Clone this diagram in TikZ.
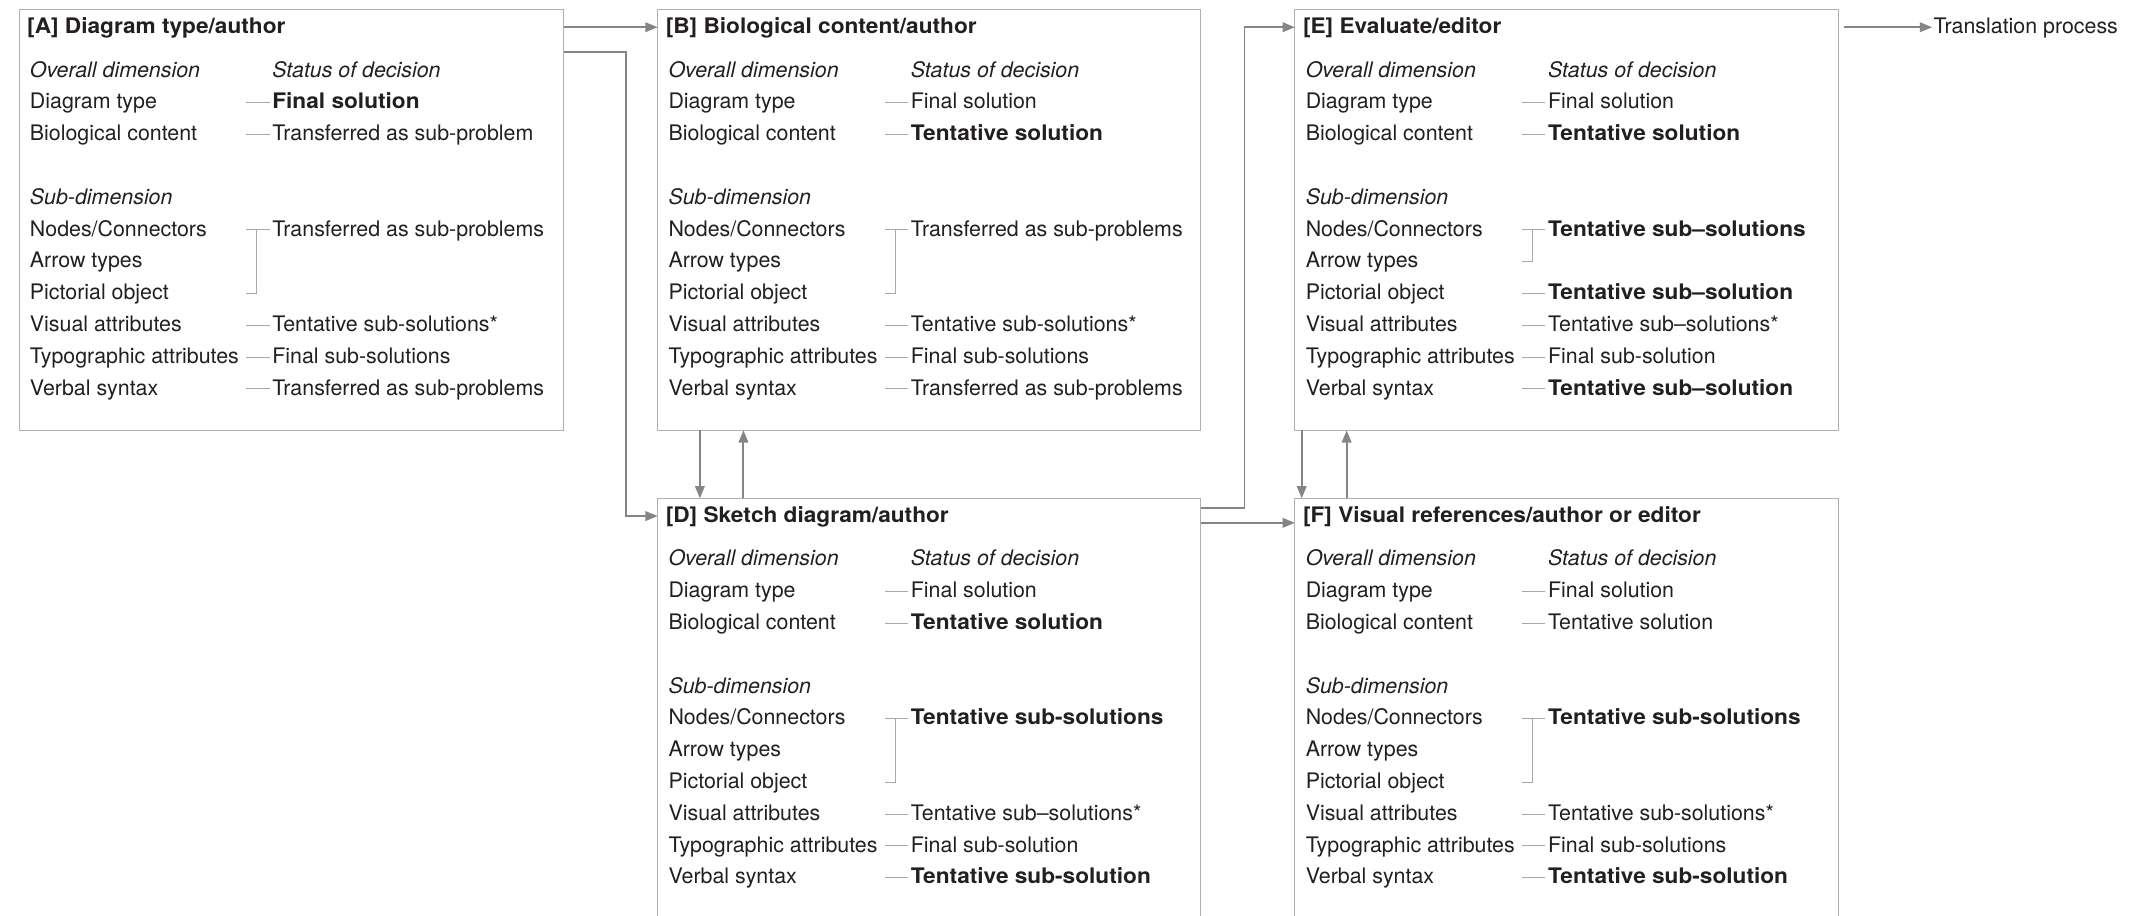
\documentclass[tikz,border=0pt]{standalone}
\usepackage{fontspec}
\setmainfont{TeX Gyre Heros}[BoldFeatures={FakeStretch=1.06}]
\usetikzlibrary{arrows.meta,calc}
\definecolor{txtc}{HTML}{231F20}
\definecolor{boxc}{HTML}{B0B0B0}
\definecolor{arrc}{HTML}{858585}
\definecolor{dashc}{HTML}{A8A8A8}
\tikzset{
  panel/.style={draw=boxc, line width=0.8pt, fill=none, inner sep=0pt, outer sep=0pt, anchor=north west},
  txt/.style={text=txtc, inner sep=0pt, outer sep=0pt, anchor=base west, font=\fontsize{15.7}{19}\selectfont},
  txtb/.style={txt, font=\fontsize{15.7}{19}\selectfont\bfseries},
  txti/.style={txt, font=\fontsize{15.7}{19}\selectfont\itshape},
  dashln/.style={draw=dashc, line width=0.7pt},
  arr/.style={draw=arrc, line width=1.4pt, -{Triangle[length=9pt,width=7pt]}}
}
% header of a panel
\newcommand\phead[2]{%
  \node[txtb] (#1-t) at (6,-17.5) {#2};
  \node[txti] (#1-h1) at (8,-49.6) {Overall dimension};
  \node[txti] (#1-h2) at (186,-49.6) {Status of decision};
  \node[txti] (#1-s) at (8,{-49.6-23.35*4}) {Sub-dimension};
}
% row with dash
\newcommand\prow[4]{%
  \node[txt] (#1-l#2) at (8,{-49.6-23.35*#2}) {#3};
  \node[txt] (#1-r#2) at (186,{-49.6-23.35*#2}) {#4};
  \draw[dashln] (167,{-45.1-23.35*#2}) -- (184,{-45.1-23.35*#2});
}
% row with left and right text, no dash
\newcommand\prown[4]{%
  \node[txt] (#1-l#2) at (8,{-49.6-23.35*#2}) {#3};
  \node[txt] (#1-r#2) at (186,{-49.6-23.35*#2}) {#4};
}
% left text only
\newcommand\pleft[3]{%
  \node[txt] (#1-l#2) at (8,{-49.6-23.35*#2}) {#3};
}
% bracket from row #1 to row #2
\newcommand\pbracket[2]{%
  \draw[dashln] (167,{-45.1-23.35*#1}) -- (184,{-45.1-23.35*#1});
  \draw[dashln] (174.7,{-45.1-23.35*#1}) -- (174.7,{-45.1-23.35*#2}) -- (167,{-45.1-23.35*#2});
}
\begin{document}
\begin{tikzpicture}[x=1pt,y=1pt]
\useasboundingbox (0,0) rectangle (1568,-672);
\clip (0,0) rectangle (1568,-672);
\fill[white] (0,0) rectangle (1568,-672);

% panels
\node[panel, minimum width=400pt, minimum height=309pt] (A) at (14,-7) {};
\node[panel, minimum width=399pt, minimum height=309pt] (B) at (483,-7) {};
\node[panel, minimum width=399pt, minimum height=309pt] (E) at (951,-7) {};
\node[panel, minimum width=399pt, minimum height=330pt] (D) at (483,-366) {};
\node[panel, minimum width=399pt, minimum height=330pt] (F) at (951,-366) {};

% panel A
\begin{scope}[shift={(A.north west)}]
  \phead{A}{[A] Diagram type/author}
  \prow{A}{1}{Diagram type}{\textbf{Final solution}}
  \prow{A}{2}{Biological content}{Transferred as sub-problem}
  \prown{A}{5}{Nodes/Connectors}{Transferred as sub-problems}
  \pleft{A}{6}{Arrow types}
  \pleft{A}{7}{Pictorial object}
  \pbracket{5}{7}
  \prow{A}{8}{Visual attributes}{Tentative sub-solutions*}
  \prow{A}{9}{Typographic attributes}{Final sub-solutions}
  \prow{A}{10}{Verbal syntax}{Transferred as sub-problems}
\end{scope}

% panel B
\begin{scope}[shift={(B.north west)}]
  \phead{B}{[B] Biological content/author}
  \prow{B}{1}{Diagram type}{Final solution}
  \prow{B}{2}{Biological content}{\textbf{Tentative solution}}
  \prown{B}{5}{Nodes/Connectors}{Transferred as sub-problems}
  \pleft{B}{6}{Arrow types}
  \pleft{B}{7}{Pictorial object}
  \pbracket{5}{7}
  \prow{B}{8}{Visual attributes}{Tentative sub-solutions*}
  \prow{B}{9}{Typographic attributes}{Final sub-solutions}
  \prow{B}{10}{Verbal syntax}{Transferred as sub-problems}
\end{scope}

% panel E
\begin{scope}[shift={(E.north west)}]
  \phead{E}{[E] Evaluate/editor}
  \prow{E}{1}{Diagram type}{Final solution}
  \prow{E}{2}{Biological content}{\textbf{Tentative solution}}
  \prown{E}{5}{Nodes/Connectors}{\textbf{Tentative sub--solutions}}
  \pleft{E}{6}{Arrow types}
  \pbracket{5}{6}
  \prow{E}{7}{Pictorial object}{\textbf{Tentative sub--solution}}
  \prow{E}{8}{Visual attributes}{Tentative sub--solutions*}
  \prow{E}{9}{Typographic attributes}{Final sub-solution}
  \prow{E}{10}{Verbal syntax}{\textbf{Tentative sub--solution}}
\end{scope}

% panel D
\begin{scope}[shift={(D.north west)}]
  \phead{D}{[D] Sketch diagram/author}
  \prow{D}{1}{Diagram type}{Final solution}
  \prow{D}{2}{Biological content}{\textbf{Tentative solution}}
  \prown{D}{5}{Nodes/Connectors}{\textbf{Tentative sub-solutions}}
  \pleft{D}{6}{Arrow types}
  \pleft{D}{7}{Pictorial object}
  \pbracket{5}{7}
  \prow{D}{8}{Visual attributes}{Tentative sub--solutions*}
  \prow{D}{9}{Typographic attributes}{Final sub-solution}
  \prow{D}{10}{Verbal syntax}{\textbf{Tentative sub-solution}}
\end{scope}

% panel F
\begin{scope}[shift={(F.north west)}]
  \phead{F}{[F] Visual references/author or editor}
  \prow{F}{1}{Diagram type}{Final solution}
  \prow{F}{2}{Biological content}{Tentative solution}
  \prown{F}{5}{Nodes/Connectors}{\textbf{Tentative sub-solutions}}
  \pleft{F}{6}{Arrow types}
  \pleft{F}{7}{Pictorial object}
  \pbracket{5}{7}
  \prow{F}{8}{Visual attributes}{Tentative sub-solutions*}
  \prow{F}{9}{Typographic attributes}{Final sub-solutions}
  \prow{F}{10}{Verbal syntax}{\textbf{Tentative sub-solution}}
\end{scope}

% output label
\node[txt] (T) at (1420,-24.5) {Translation process};

% connectors
\draw[arr] ($(A.north east)+(0,-13)$) -- ($(B.north west)+(0,-13)$);
\draw[arr] ($(A.north east)+(0,-31)$) -| ($(D.north west)+(-23,-13)$) -- ($(D.north west)+(0,-13)$);
\draw[arr] ($(B.south west)+(31,0)$) -- ($(D.north west)+(31,0)$);
\draw[arr] ($(D.north west)+(63,0)$) -- ($(B.south west)+(63,0)$);
\draw[arr] ($(D.north east)+(0,-7)$) -| ($(E.north west)+(-37,-13)$) -- ($(E.north west)+(0,-13)$);
\draw[arr] ($(D.north east)+(0,-18)$) -- ($(F.north west)+(0,-18)$);
\draw[arr] ($(E.south west)+(5,0)$) -- ($(F.north west)+(5,0)$);
\draw[arr] ($(F.north west)+(38,0)$) -- ($(E.south west)+(38,0)$);
\draw[arr] ($(E.north east)+(4,-13)$) -- ($(T.base west)+(-1,4.5)$);
\end{tikzpicture}
\end{document}
